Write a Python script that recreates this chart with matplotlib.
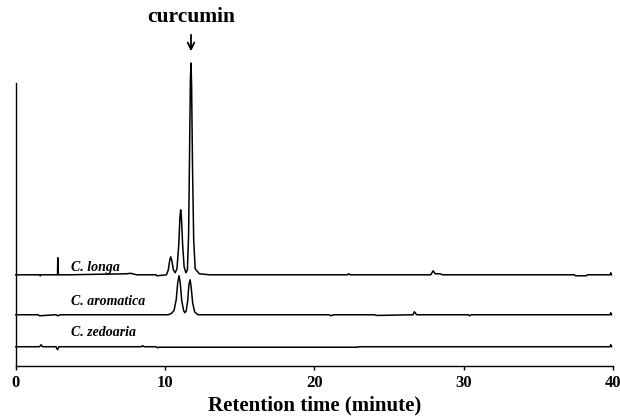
import matplotlib
matplotlib.use("Agg")
import matplotlib.pyplot as plt

plt.rcParams["font.family"] = ["Liberation Serif", "DejaVu Serif"]

# chromatogram traces (retention time in min, signal above own baseline)
longa_time = [0.0, 1.6, 1.65, 1.7, 2.8, 2.82, 2.86, 3.5, 7.4, 7.7,
              8.1, 9.4, 9.45, 10.1, 10.22, 10.31, 10.38, 10.46, 10.56, 10.68,
              10.8, 10.92, 11.0, 11.05, 11.1, 11.18, 11.28, 11.4, 11.5, 11.58,
              11.65, 11.7, 11.74, 11.78, 11.84, 11.92, 12.02, 12.3, 13.0, 22.2,
              22.3, 22.4, 27.8, 27.95, 28.1, 28.4, 28.6, 37.4, 37.5, 38.2,
              38.3, 39.8, 39.85, 39.9]
longa_sig = [0, 0, -1, 0, 0, 17, 0, 0, 1, 1.5,
             0, 0, -1, 0, 5, 14, 18, 14, 5, 2,
             6, 30, 58, 65, 57, 30, 8, 2, 5, 40,
             130, 195, 212, 190, 110, 35, 6, 1, 0, 0,
             1, 0, 0, 4, 1, 1, 0, 0, -1, -1,
             0, 0, 2, 0]

arom_time = [0.0, 1.5, 1.6, 2.7, 2.8, 3.0, 10.2, 10.4, 10.6, 10.75,
             10.85, 10.94, 11.02, 11.12, 11.25, 11.33, 11.42, 11.52, 11.6, 11.68,
             11.75, 11.85, 11.98, 12.2, 21.0, 21.1, 21.3, 24.0, 24.2, 26.6,
             26.7, 26.85, 27.2, 30.3, 30.4, 30.5, 39.8, 39.85, 39.9]
arom_sig = [0, 0, -1, 0, -1, 0, 0, 1, 4, 15,
            32, 39, 32, 14, 4, 2, 4, 14, 30, 35,
            28, 12, 3, 0, 0, -1, 0, 0, -0.7, 0,
            3, 0, 0, 0, -1, 0, 0, 2, 0]

zed_time = [0.0, 1.6, 1.7, 1.8, 2.7, 2.8, 2.9, 3.2, 8.4, 8.5,
            8.6, 9.4, 9.5, 9.6, 22.9, 23.0, 39.8, 39.85, 39.9]
zed_sig = [0, 0, 2, 0, 0, -3, 0, 0, 0, 1,
           0, 0, -1, -0.5, -0.5, 0, 0, 2, 0]

names = ["C. longa", "C. aromatica", "C. zedoaria"]
x_ticks = [0, 10, 20, 30, 40]
curcumin_rt = 11.74

traces = [(longa_time, longa_sig), (arom_time, arom_sig), (zed_time, zed_sig)]
offsets = [91, 51, 19]
label_y = [95, 61, 30]

fig = plt.figure(figsize=(6.2, 4.17), dpi=100)
ax = fig.add_axes([0.0253, 0.123, 0.9634, 0.678])

for (t, s), off, name, ly in zip(traces, offsets, names, label_y):
    ax.plot(t, [v + off for v in s], color="black", linewidth=1.1,
            clip_on=False)
    ax.text(3.73, ly, name, fontsize=10, fontweight="bold", style="italic",
            ha="left", va="baseline")

peak_top = offsets[0] + max(longa_sig)
ax.annotate("", xy=(curcumin_rt, peak_top + 9), xytext=(curcumin_rt, peak_top + 31),
            arrowprops=dict(arrowstyle="->", lw=1.3, color="black",
                            mutation_scale=12),
            annotation_clip=False)
ax.text(curcumin_rt, peak_top + 46, "curcumin", fontsize=15.5, fontweight="bold",
        ha="center", va="center")

ax.set_xlim(0, 40)
ax.set_ylim(0, 283)
ax.set_xticks(x_ticks)
ax.set_xticklabels([str(v) for v in x_ticks], fontsize=12, fontweight="bold")
ax.set_yticks([])
ax.tick_params(axis="x", direction="out", length=3, width=1, pad=4)
for side in ["top", "right"]:
    ax.spines[side].set_visible(False)
ax.spines["left"].set_linewidth(1.0)
ax.spines["bottom"].set_linewidth(1.0)
ax.set_xlabel("Retention time (minute)", fontsize=15, fontweight="bold",
              labelpad=3)

fig.savefig("out.png", dpi=100)
